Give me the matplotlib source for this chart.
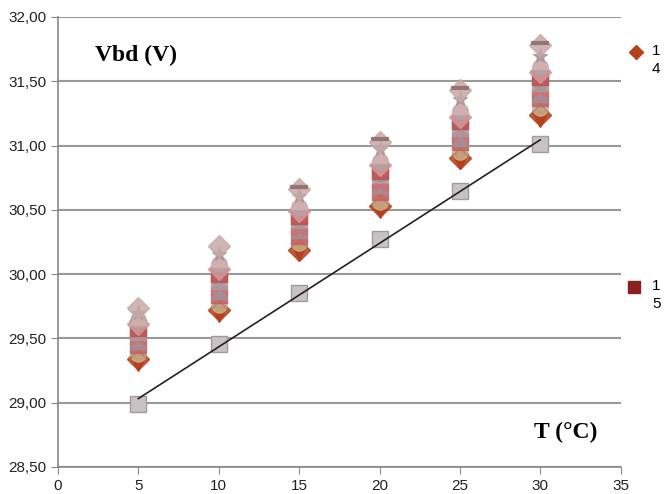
import matplotlib
matplotlib.use("Agg")
import matplotlib.pyplot as plt
import numpy as np
from matplotlib.lines import Line2D
from matplotlib.ticker import FuncFormatter

temps = [5, 10, 15, 20, 25, 30]

# breakdown voltage per channel
vbd_series = [
    [29.31, 29.69, 30.17, 30.50, 30.88, 31.21],
    [29.34, 29.72, 30.19, 30.53, 30.90, 31.24],
    [29.38, 29.76, 30.24, 30.56, 30.95, 31.29],
    [29.41, 29.79, 30.27, 30.61, 30.98, 31.32],
    [29.45, 29.84, 30.30, 30.64, 31.03, 31.37],
    [29.48, 29.87, 30.34, 30.69, 31.06, 31.40],
    [29.52, 29.92, 30.37, 30.72, 31.11, 31.45],
    [29.55, 29.95, 30.42, 30.77, 31.14, 31.49],
    [29.58, 30.00, 30.45, 30.80, 31.19, 31.53],
    [29.61, 30.04, 30.49, 30.85, 31.22, 31.57],
    [29.64, 30.08, 30.52, 30.88, 31.27, 31.61],
    [29.67, 30.12, 30.57, 30.93, 31.31, 31.66],
    [29.70, 30.16, 30.61, 30.97, 31.36, 31.70],
    [29.74, 30.22, 30.66, 31.03, 31.43, 31.78],
]
series_markers = ['v', 'D', 'o', 'x', 's', '^', 'X', 's', 's', 'D', 'o', '^', '*', 'D']
series_colors = ['#A82A1A', '#B5401A', '#C8B088', '#9A8A8A', '#C86060', '#A09098',
                 '#D07070', '#A89CA0', '#C05050', '#D09898', '#B0A4A8', '#D8B0B0',
                 '#A89898', '#C8A8A8']

# reference channel (gray squares)
ref_vbd = [28.99, 29.46, 29.85, 30.27, 30.65, 31.01]

fig = plt.figure(figsize=(6.64, 4.94), dpi=100)
ax = fig.add_axes([0.0873, 0.0547, 0.8475, 0.911])

for vals, m, c in zip(vbd_series, series_markers, series_colors):
    ax.plot(temps, vals, linestyle='none', marker=m, markersize=11,
            color=c, markeredgecolor=c, alpha=0.85, zorder=3)
# dark caps on top of some columns
ax.plot(temps[2:], [30.68, 31.05, 31.45, 31.80], linestyle='none', marker='_',
        markersize=13, markeredgewidth=3, color='#8A6A6A', alpha=0.85, zorder=3)

ax.plot(temps, ref_vbd, linestyle='none', marker='s', markersize=11,
        markerfacecolor='#C9C2C4', markeredgecolor='#A39A9C', zorder=4)
fit = np.polyfit(temps, ref_vbd, 1)
xs = np.array([temps[0], temps[-1]])
ax.plot(xs, np.polyval(fit, xs), color='#222222', linewidth=1.2, zorder=5)

ax.set_xlim(0, 35)
ax.set_ylim(28.5, 32.0)
ax.set_xticks(range(0, 36, 5))
ax.set_yticks(np.arange(28.5, 32.01, 0.5))
ax.yaxis.set_major_formatter(FuncFormatter(lambda v, p: f"{v:.2f}".replace('.', ',')))

ax.grid(True, axis='y', color='#999999', linewidth=1.5)
ax.set_axisbelow(True)
for s in ['top', 'right']:
    ax.spines[s].set_visible(False)
for s in ['left', 'bottom']:
    ax.spines[s].set_color('#888888')
    ax.spines[s].set_linewidth(1.2)
ax.tick_params(axis='both', direction='out', length=5, color='#888888',
               labelsize=11, labelcolor='#222222')
for lbl in ax.get_xticklabels() + ax.get_yticklabels():
    lbl.set_family('Liberation Sans')

ax.text(2.3, 31.70, 'Vbd (V)', fontsize=17, fontweight='bold',
        family='Liberation Serif', va='center', ha='left')
ax.text(29.6, 28.77, 'T (°C)', fontsize=17, fontweight='bold',
        family='Liberation Serif', va='center', ha='left')

# legend at right margin
fig.add_artist(Line2D([636 / 664], [1 - 52 / 494], marker='D', markersize=7,
                      color='#B5401A', linestyle='none', transform=fig.transFigure))
fig.text(652 / 664, 1 - 60 / 494, '1\n4', fontsize=11, va='center', ha='left',
         family='Liberation Sans', linespacing=1.3)
fig.add_artist(Line2D([634 / 664], [1 - 287 / 494], marker='s', markersize=9,
                      color='#8B2020', linestyle='none', transform=fig.transFigure))
fig.text(652 / 664, 1 - 295 / 494, '1\n5', fontsize=11, va='center', ha='left',
         family='Liberation Sans', linespacing=1.3)

fig.savefig('out.png', dpi=100)
